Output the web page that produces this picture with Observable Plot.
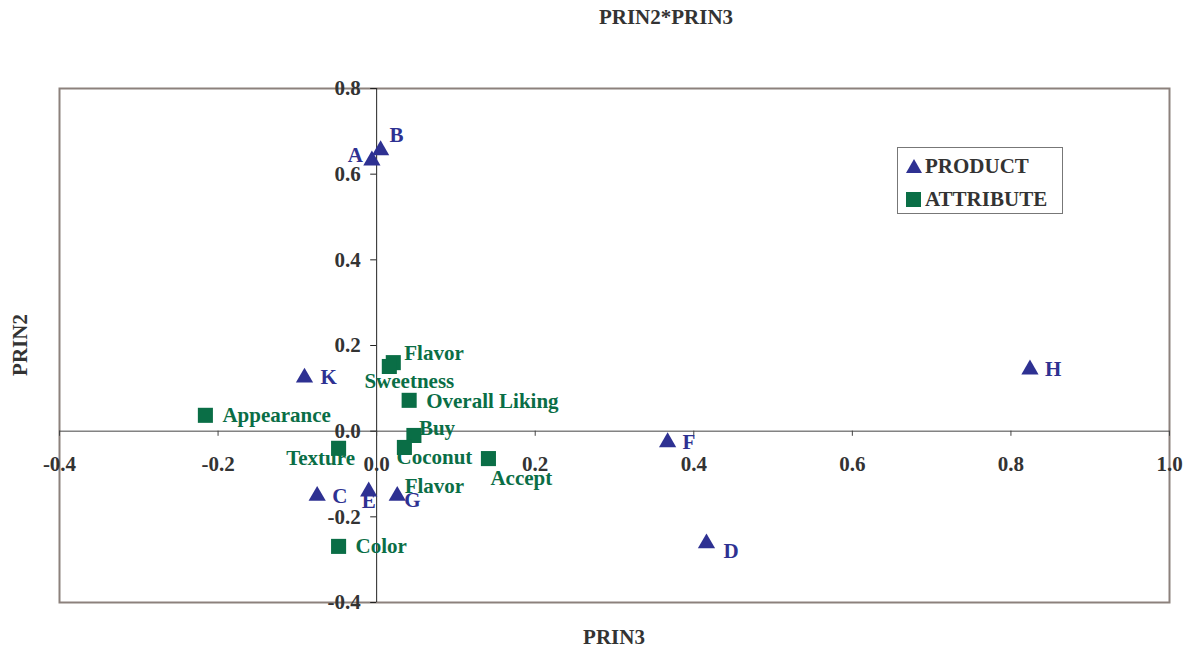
<!DOCTYPE html>
<html>
<head>
<meta charset="utf-8">
<script src="https://cdn.jsdelivr.net/npm/d3@7"></script>
<script src="https://cdn.jsdelivr.net/npm/@observablehq/plot@0.6"></script>
<style>
  html, body { margin: 0; padding: 0; background: #fff; }
  #wrap { position: relative; width: 1187px; height: 649px; font-family: "Liberation Serif", "Times New Roman", serif; font-weight: bold; color: #333; }
  #chart svg { display: block; }
  .title { position: absolute; left: 0; width: 1332px; top: 4px; text-align: center; font-size: 21px; line-height: 26px; }
  .xlab { position: absolute; left: 0; width: 1228px; top: 624px; text-align: center; font-size: 21px; line-height: 26px; }
  .ylab { position: absolute; left: 20px; top: 345px; transform: translate(-50%, -50%) rotate(-90deg); font-size: 21px; line-height: 26px; white-space: nowrap; }
  .legend { position: absolute; left: 897px; top: 147px; width: 164px; height: 65px; border: 1px solid #777; background: #fff; font-size: 21px; line-height: 24px; }
  .legend .item { position: absolute; left: 7px; display: flex; align-items: center; }
  .legend svg { margin-right: 2px; }
</style>
</head>
<body>
<div id="wrap">
  <div id="chart"></div>
  <div class="title">PRIN2*PRIN3</div>
  <div class="xlab">PRIN3</div>
  <div class="ylab">PRIN2</div>
  <div class="legend">
    <div class="item" style="top:6px"><svg width="18" height="16"><polygon points="9,1 17,15 1,15" fill="#2E3192"/></svg>PRODUCT</div>
    <div class="item" style="top:39px"><svg width="18" height="16"><rect x="1" y="1" width="15" height="15" fill="#0A6E46"/></svg>ATTRIBUTE</div>
  </div>
</div>
<script>
// ---- data ----
const productNames = ["A", "B", "C", "D", "E", "F", "G", "H", "K"];
const productPrin3 = [-0.006, 0.005, -0.075, 0.416, -0.010, 0.367, 0.026, 0.824, -0.091];
const productPrin2 = [0.632, 0.656, -0.151, -0.262, -0.141, -0.026, -0.151, 0.144, 0.125];

const attributeNames = ["Flavor", "Sweetness", "Overall Liking", "Appearance", "Buy", "Coconut\nFlavor", "Texture", "Accept", "Color"];
const attributePrin3 = [0.021, 0.016, 0.041, -0.216, 0.047, 0.035, -0.048, 0.141, -0.048];
const attributePrin2 = [0.160, 0.151, 0.072, 0.037, -0.010, -0.038, -0.040, -0.064, -0.269];

const xTicks = [-0.4, -0.2, 0.0, 0.2, 0.4, 0.6, 0.8, 1.0];
const xTickLabels = ["-0.4", "-0.2", "0.0", "0.2", "0.4", "0.6", "0.8", "1.0"];
const yTicks = [-0.4, -0.2, 0.0, 0.2, 0.4, 0.6, 0.8];
const yTickLabels = ["-0.4", "-0.2", "0.0", "0.2", "0.4", "0.6", "0.8"];

// ---- label placement (pixel offsets, layout only) ----
const productLabelLayout = {
  A: {anchor: "end", dx: -9, dy: -5},
  B: {anchor: "start", dx: 9, dy: -15},
  C: {anchor: "start", dx: 15, dy: 0},
  D: {anchor: "start", dx: 17, dy: 8},
  E: {anchor: "middle", dx: 0, dy: 10},
  F: {anchor: "start", dx: 15, dy: 0},
  G: {anchor: "start", dx: 7, dy: 4},
  H: {anchor: "start", dx: 15, dy: 0},
  K: {anchor: "start", dx: 16, dy: 0}
};
const attributeLabelLayout = {
  "Flavor": {anchor: "start", dx: 11, dy: -9},
  "Sweetness": {anchor: "middle", dx: 20, dy: 15},
  "Overall Liking": {anchor: "start", dx: 17, dy: 1},
  "Appearance": {anchor: "start", dx: 17, dy: 0},
  "Buy": {anchor: "start", dx: 5, dy: -7},
  "Coconut\nFlavor": {anchor: "middle", dx: 30, dy: 22},
  "Texture": {anchor: "middle", dx: -18, dy: 10},
  "Accept": {anchor: "start", dx: 2, dy: 20},
  "Color": {anchor: "start", dx: 17, dy: 0}
};

const BLUE = "#2E3192";
const GREEN = "#0A6E46";

const products = productNames.map((n, i) => ({name: n, x: productPrin3[i], y: productPrin2[i]}));
const attributes = attributeNames.map((n, i) => ({name: n, x: attributePrin3[i], y: attributePrin2[i]}));
const xt = xTicks.map((v, i) => ({v, zero: 0, label: xTickLabels[i]}));
const yt = yTicks.map((v, i) => ({v, zero: 0, label: yTickLabels[i]}));

const labelFont = {fontFamily: "Liberation Serif, Times New Roman, serif", fontWeight: "bold", fontSize: 21};

const productLabelMarks = products.map(d => {
  const L = productLabelLayout[d.name];
  return Plot.text([d], {x: "x", y: "y", text: "name", fill: BLUE, textAnchor: L.anchor, dx: L.dx, dy: L.dy, ...labelFont});
});
const attributeLabelMarks = attributes.map(d => {
  const L = attributeLabelLayout[d.name];
  const multi = d.name.includes("\n");
  return Plot.text([d], {x: "x", y: "y", text: "name", fill: GREEN, textAnchor: L.anchor, dx: L.dx, dy: L.dy, ...(multi ? {lineHeight: 1.38} : {}), ...labelFont});
});

const chart = Plot.plot({
  width: 1187,
  height: 649,
  marginTop: 88,
  marginBottom: 47,
  marginLeft: 59,
  marginRight: 18,
  x: {type: "linear", domain: [-0.4, 1.0], axis: null},
  y: {type: "linear", domain: [-0.4, 0.8], axis: null},
  style: {background: "#fff"},
  marks: [
    Plot.frame({stroke: "#8C817C", strokeWidth: 2}),
    Plot.ruleY([0], {stroke: "#444", strokeWidth: 1}),
    Plot.ruleX([0], {stroke: "#222", strokeWidth: 1}),
    Plot.ruleX(xt, {x: "v", y1: "zero", y2: (d) => -0.012, stroke: "#444"}),
    Plot.ruleY(yt, {y: "v", x1: (d) => -0.0075, x2: "zero", stroke: "#222"}),
    Plot.text(xt, {x: "v", y: "zero", text: "label", dy: 33, fill: "#333", ...labelFont}),
    Plot.text(yt, {x: "zero", y: "v", text: "label", textAnchor: "end", dx: -16, fill: "#333", ...labelFont}),
    Plot.dot(attributes, {x: "x", y: "y", symbol: "square", r: 8.5, fill: GREEN, stroke: "none"}),
    Plot.dot(products, {x: "x", y: "y", symbol: "triangle", r: 6.4, fill: BLUE, stroke: "none"}),
    ...attributeLabelMarks,
    ...productLabelMarks
  ]
});
document.getElementById("chart").appendChild(chart);
</script>
</body>
</html>
